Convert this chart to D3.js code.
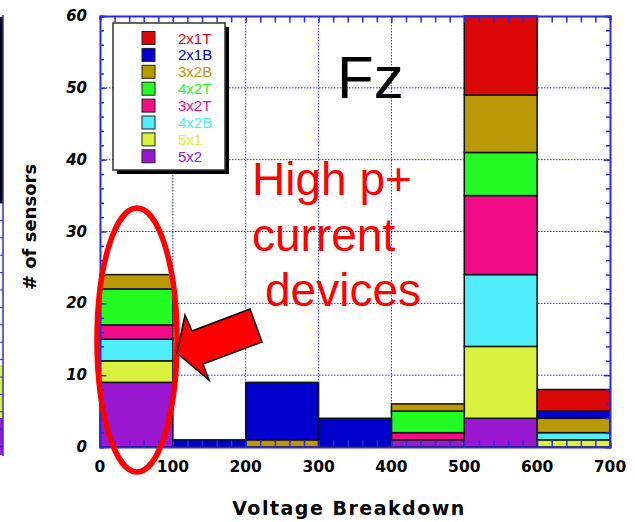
<!DOCTYPE html>
<html>
<head>
<meta charset="utf-8">
<script src="https://cdn.jsdelivr.net/npm/d3@7"></script>
<style>
body{margin:0;background:#fff;}
svg{display:block;}
</style>
</head>
<body>
<div id="chart"></div>
<script>
// voltage bins (lower edge of each 100 V bin)
var binStart = [0,100,200,300,400,500,600];
var binWidth = 100;

// sensor types, bottom of stack first
var seriesNames = ["5x2","5x1","4x2B","3x2T","4x2T","3x2B","2x1B","2x1T"];
var seriesColors = ["#9a18d2","#d8f23e","#50eefc","#f20c88","#22fc22","#b99a06","#0000cc","#dc0808"];

var s5x2  = [9,0,0,0,1,4,0];
var s5x1  = [3,0,0,0,0,10,1];
var s4x2B = [3,0,0,0,0,10,1];
var s3x2T = [2,0,0,0,1,11,0];
var s4x2T = [5,0,0,0,3,6,0];
var s3x2B = [2,0,1,0,1,8,2];
var s2x1B = [0,1,8,4,0,0,1];
var s2x1T = [0,0,0,0,0,11,3];

var xTicks = [0,100,200,300,400,500,600,700];
var yTicks = [0,10,20,30,40,50,60];

var W = 635, H = 522;
var frameBlue = "#2b2be0";

var svg = d3.select("#chart").append("svg")
	.attr("width", W).attr("height", H);

var x = d3.scaleLinear().domain([0,700]).range([100,610]);
var y = d3.scaleLinear().domain([0,60]).range([447,16]);

var seriesVals = [s5x2,s5x1,s4x2B,s3x2T,s4x2T,s3x2B,s2x1B,s2x1T];
var rows = binStart.map(function(b,i){
	var r = {bin:b};
	seriesNames.forEach(function(n,j){ r[n] = seriesVals[j][i]; });
	return r;
});
var stacked = d3.stack().keys(seriesNames)(rows);

// fragment of the neighbouring plot at the left edge
var frag = svg.append("g");
frag.append("rect").attr("x",-4).attr("y",17).attr("width",7).attr("height",186).attr("fill","#000");
frag.append("rect").attr("x",-4).attr("y",365).attr("width",7).attr("height",53).attr("fill","#d8f23e");
frag.append("rect").attr("x",-4).attr("y",418).attr("width",7).attr("height",37).attr("fill","#9a18d2");
frag.selectAll(".fl").data(d3.range(203,456,17.4)).enter().append("line")
	.attr("x1",0).attr("x2",3).attr("y1",function(d){return d;}).attr("y2",function(d){return d;})
	.attr("stroke",frameBlue).attr("stroke-width",1);
frag.append("line").attr("x1",3).attr("x2",3).attr("y1",15).attr("y2",456)
	.attr("stroke",frameBlue).attr("stroke-width",1.5);

// dotted grid
var grid = svg.append("g");
grid.selectAll(".gx").data(xTicks.slice(1,-1)).enter().append("line")
	.attr("x1",function(d){return x(d);}).attr("x2",function(d){return x(d);})
	.attr("y1",y(60)).attr("y2",y(0))
	.attr("stroke",frameBlue).attr("stroke-width",1).attr("stroke-dasharray","1.5,1.5");
grid.selectAll(".gy").data(yTicks.slice(1,-1)).enter().append("line")
	.attr("y1",function(d){return y(d);}).attr("y2",function(d){return y(d);})
	.attr("x1",x(0)).attr("x2",x(700))
	.attr("stroke",frameBlue).attr("stroke-width",1).attr("stroke-dasharray","1.5,1.5");

// stacked bars
svg.append("g").selectAll("g").data(stacked).enter().append("g")
	.attr("fill",function(d,i){return seriesColors[i];})
	.selectAll("rect").data(function(d){return d.filter(function(p){return p[1]>p[0];});})
	.enter().append("rect")
	.attr("x",function(d){return x(d.data.bin);})
	.attr("width",function(d){return x(d.data.bin+binWidth)-x(d.data.bin);})
	.attr("y",function(d){return y(d[1]);})
	.attr("height",function(d){return y(d[0])-y(d[1]);})
	.attr("stroke","#111").attr("stroke-width",1.5);

// frame with inward ticks on all four sides
var xMinor = d3.range(0,701,20), yMinor = d3.range(0,61,2);
var axisG = svg.append("g");
axisG.append("g").attr("transform","translate(0,"+y(0)+")")
	.call(d3.axisTop(x).tickValues(xMinor).tickSize(4).tickFormat(""));
axisG.append("g").attr("transform","translate(0,"+y(60)+")")
	.call(d3.axisBottom(x).tickValues(xMinor).tickSize(4).tickFormat(""));
axisG.append("g").attr("transform","translate("+x(0)+",0)")
	.call(d3.axisRight(y).tickValues(yMinor).tickSize(4).tickFormat(""));
axisG.append("g").attr("transform","translate("+x(700)+",0)")
	.call(d3.axisLeft(y).tickValues(yMinor).tickSize(4).tickFormat(""));
axisG.selectAll("path").attr("stroke",frameBlue).attr("stroke-width",2);
axisG.selectAll(".tick line").attr("stroke",frameBlue).attr("stroke-width",1.5);
axisG.selectAll(".tick").filter(function(d){return d%10===0;}).select("line")
	.attr("x2",function(){var v=+d3.select(this).attr("x2");return v? v*1.6:v;})
	.attr("y2",function(){var v=+d3.select(this).attr("y2");return v? v*1.6:v;});

// tick labels
svg.append("g").selectAll("text").data(xTicks).enter().append("text")
	.attr("x",function(d){return x(d);}).attr("y",472)
	.attr("text-anchor","middle")
	.style("font-family","'DejaVu Sans',sans-serif").style("font-weight","bold").style("font-size","15.5px")
	.text(function(d){return d;});
svg.append("g").selectAll("text").data(yTicks).enter().append("text")
	.attr("x",87).attr("y",function(d){return y(d)+5;})
	.attr("text-anchor","end")
	.style("font-family","'DejaVu Sans',sans-serif").style("font-weight","bold").style("font-style","italic").style("font-size","15px")
	.text(function(d){return d;});

// axis titles
svg.append("text").attr("x",349).attr("y",515).attr("text-anchor","middle")
	.style("font-family","'DejaVu Sans',sans-serif").style("font-weight","bold").style("font-size","19px")
	.style("letter-spacing","1.5px")
	.text("Voltage Breakdown");
svg.append("text").attr("transform","translate(36,227) rotate(-90)").attr("text-anchor","middle")
	.style("font-family","'DejaVu Sans',sans-serif").style("font-weight","bold").style("font-size","18px")
	.text("# of sensors");

// legend
var leg = svg.append("g");
leg.append("rect").attr("x",117).attr("y",27).attr("width",112).attr("height",147).attr("fill","#000");
leg.append("rect").attr("x",113).attr("y",23).attr("width",112).attr("height",147)
	.attr("fill","#fff").attr("stroke","#333").attr("stroke-width",1.5);
var legOrder = seriesNames.slice().reverse();
var legColors = seriesColors.slice().reverse();
var li = leg.selectAll(".li").data(legOrder).enter().append("g")
	.attr("transform",function(d,i){return "translate(0,"+(38+i*16.9)+")";});
li.append("rect").attr("x",142).attr("y",-6.5).attr("width",13).attr("height",13)
	.attr("fill",function(d,i){return legColors[i];}).attr("stroke","#222").attr("stroke-width",1);
li.append("text").attr("x",178).attr("y",5.5)
	.attr("fill",function(d,i){return legColors[i];})
	.style("font-family","'Liberation Sans',Arial,sans-serif").style("font-size","15px")
	.text(function(d){return d;});

// annotations
svg.append("text").attr("x",337).attr("y",98)
	.style("font-family","'Liberation Sans',Arial,sans-serif").style("font-size","60px")
	.text("Fz");
var ann = svg.append("g").attr("fill","#ff0000")
	.style("font-family","'Liberation Sans',Arial,sans-serif").style("font-size","46px");
ann.append("text").attr("x",252).attr("y",195).text("High p+");
ann.append("text").attr("x",252).attr("y",251).text("current");
ann.append("text").attr("x",265).attr("y",306).text("devices");

svg.append("ellipse").attr("cx",137).attr("cy",340).attr("rx",40).attr("ry",132)
	.attr("fill","none").attr("stroke","#ff0000").attr("stroke-width",5.5);

svg.append("polygon")
	.attr("points","177,353 185,315 192,331 250,309 262,342 203,364 209,380")
	.attr("fill","#ff0000").attr("stroke","#000").attr("stroke-width",1.5).attr("stroke-linejoin","miter");
</script>
</body>
</html>
